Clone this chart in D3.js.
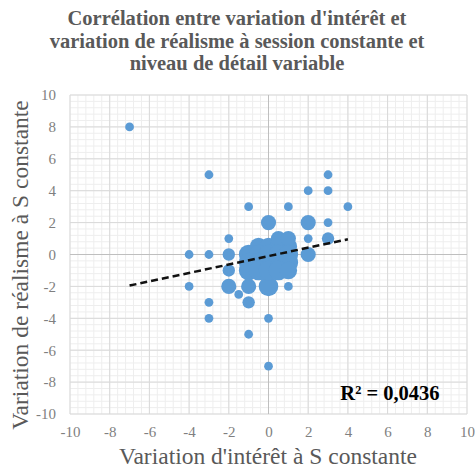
<!DOCTYPE html>
<html><head><meta charset="utf-8">
<script src="https://cdn.jsdelivr.net/npm/d3@7"></script>
<style>body{margin:0;background:#fff}svg{display:block}</style>
</head><body>
<svg id="c" width="475" height="472"></svg>
<script>
// ---- data ----
const titleLines = ["Corrélation entre variation d'intérêt et","variation de réalisme à session constante et","niveau de détail variable"];
const xTitle = "Variation d'intérêt à S constante";
const yTitle = "Variation de réalisme à S constante";
const xTicks = [-10,-8,-6,-4,-2,0,2,4,6,8,10];
const yTicks = [-10,-8,-6,-4,-2,0,2,4,6,8,10];
// variation d'intérêt (x), variation de réalisme (y), bubble size (count)
const ptX = [-7,-3,-1,1,3,2,3,4,3,2,-2,-4,-3,-4,-3,-3,-1,0,0,1,-1.5,1,
             -2,-2,3,-1,
             0,2,2,-2,-1,
             0,
             -0.5,0,0.5,1, 0.5,1,
             -1,-0.5,0,0.5,1,
             -1,-0.5,0,0.5,1,
             -1,-0.5,0,0.5,1];
const ptY = [8,5,3,3,5,4,4,3,2,1,1,0,0,-2,-3,-4,-5,-4,-7,-2,-2.5,-1,
             0,-1,1,-3,
             2,2,0,-2,-2,
             -2,
             0.5,0.5,0.5,0.5, 1,1,
             0,0,0,0,0,
             -0.5,-0.5,-0.5,-0.5,-0.5,
             -1,-1,-1,-1,-1];
const ptSize = [1,1,1,1,1,1,1,1,1,1,1,1,1,1,1,1,1,1,1,1,1,1,
                2,2,2,2,
                3,3,3,3,3,
                5,
                4,4,4,4, 3,3,
                5,5,5,5,5,
                5,5,5,5,5,
                5,5,5,5,4];
const trendSlope = 0.264, trendIntercept = -0.10, trendFrom = -7, trendTo = 4;
const r2Label = "R² = 0,0436";

// ---- drawing ----
const svg = d3.select("#c");
const L=70, R=467, T=95, B=414;
const x = d3.scaleLinear().domain([-10,10]).range([L,R]);
const y = d3.scaleLinear().domain([-10,10]).range([B,T]);
const rs = d3.scaleSqrt().domain([0,5]).range([0,9.8]);
const serif = "'Liberation Serif','Times New Roman',serif";

const minor = d3.range(-10,10.001,0.4);
const g = svg.append("g");
g.selectAll(".mx").data(minor).join("line")
  .attr("x1",d=>x(d)).attr("x2",d=>x(d)).attr("y1",T).attr("y2",B)
  .attr("stroke","#EEEEEE").attr("stroke-width",1);
g.selectAll(".my").data(minor).join("line")
  .attr("y1",d=>y(d)).attr("y2",d=>y(d)).attr("x1",L).attr("x2",R)
  .attr("stroke","#EEEEEE").attr("stroke-width",1);
g.selectAll(".Mx").data(xTicks).join("line")
  .attr("x1",d=>x(d)).attr("x2",d=>x(d)).attr("y1",T).attr("y2",B)
  .attr("stroke","#D9D9D9").attr("stroke-width",1);
g.selectAll(".My").data(yTicks).join("line")
  .attr("y1",d=>y(d)).attr("y2",d=>y(d)).attr("x1",L).attr("x2",R)
  .attr("stroke","#D9D9D9").attr("stroke-width",1);
g.append("line").attr("x1",x(0)).attr("x2",x(0)).attr("y1",T).attr("y2",B).attr("stroke","#BFBFBF");
g.append("line").attr("y1",y(0)).attr("y2",y(0)).attr("x1",L).attr("x2",R).attr("stroke","#BFBFBF");

// tick labels via axes
const xa = svg.append("g").attr("transform",`translate(0,${B})`)
  .call(d3.axisBottom(x).tickValues(xTicks).tickSize(0).tickPadding(12).tickFormat(d3.format("d")));
const ya = svg.append("g").attr("transform",`translate(${L},0)`)
  .call(d3.axisLeft(y).tickValues(yTicks).tickSize(0).tickPadding(14).tickFormat(d3.format("d")));
[xa,ya].forEach(a=>{a.attr("font-family",serif).attr("font-size",15);
  a.select(".domain").remove();
  a.selectAll("text").attr("fill","#7F7F7F").text(d=>d<0?"-"+Math.abs(d):d);});

// bubbles
const pts = ptX.map((v,i)=>({x:v,y:ptY[i],s:ptSize[i]}));
svg.append("g").selectAll("circle").data(pts).join("circle")
  .attr("cx",d=>x(d.x)).attr("cy",d=>y(d.y)).attr("r",d=>rs(d.s))
  .attr("fill","#5B9BD5");

// trendline
svg.append("line")
  .attr("x1",x(trendFrom)).attr("y1",y(trendSlope*trendFrom+trendIntercept))
  .attr("x2",x(trendTo)).attr("y2",y(trendSlope*trendTo+trendIntercept))
  .attr("stroke","#111").attr("stroke-width",2.5).attr("stroke-dasharray","7,4");

// R2
svg.append("text").attr("x",390).attr("y",400).attr("text-anchor","middle")
  .attr("font-family",serif).attr("font-weight","bold").attr("font-size",20.5).attr("fill","#000")
  .text(r2Label);

// title
svg.append("g").selectAll("text").data(titleLines).join("text")
  .attr("x",237).attr("y",(d,i)=>25+i*22.5).attr("text-anchor","middle")
  .attr("font-family",serif).attr("font-weight","bold").attr("font-size",20.5).attr("fill","#595959")
  .text(d=>d);

// axis titles
svg.append("text").attr("x",268).attr("y",464).attr("text-anchor","middle")
  .attr("font-family",serif).attr("font-size",23.5).attr("fill","#595959").text(xTitle);
svg.append("text").attr("transform",`translate(28,265) rotate(-90)`).attr("text-anchor","middle")
  .attr("font-family",serif).attr("font-size",23.5).attr("fill","#595959").text(yTitle);
</script>
</body></html>
